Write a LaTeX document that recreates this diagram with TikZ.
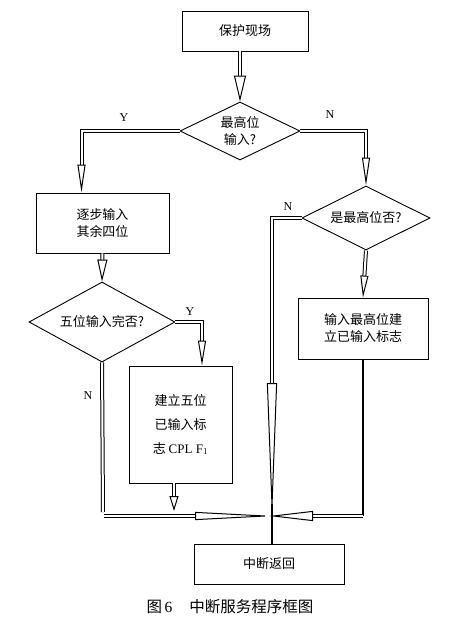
\documentclass[tikz,border=0pt]{standalone}
\usepackage{fontspec}
\setmainfont{Liberation Serif}
\newfontfamily\cjk{Noto Sans CJK SC}
\usetikzlibrary{shapes.geometric,arrows.meta}

\begin{document}
\begin{tikzpicture}[x=1pt, y=-1pt,
    block/.style={draw, line width=0.9pt, inner sep=0pt, align=center,
      font=\cjk\fontsize{13}{17}\selectfont},
    decision/.style={diamond, draw, aspect=2, line width=0.9pt, inner sep=0pt,
      align=center, font=\cjk\fontsize{13}{17}\selectfont},
    flow/.style={double, double distance=2pt, line width=1pt},
    yn/.style={font=\fontsize{12}{14}\selectfont}
  ]
    \useasboundingbox (0,0) rectangle (461,625);

    % Boxes
    \node[block, minimum width=126pt, minimum height=40pt] (save) at (245,31) {保护现场};
    \node[block, minimum width=133pt, minimum height=60pt] (rest) at (102.5,223) {逐步输入\\其余四位};
    \node[block, minimum width=103pt, minimum height=117pt, font=\cjk\fontsize{13}{24}\selectfont]
      (setf) at (180.5,424.5) {建立五位\\已输入标\\志 {\rmfamily CPL F}$_1$};
    \node[block, minimum width=130pt, minimum height=61pt] (flag) at (363,328.5) {输入最高位建\\立已输入标志};
    \node[block, minimum width=150pt, minimum height=40pt] (ret) at (269,564) {中断返回};

    % Decisions
    \node[decision, minimum width=120pt, minimum height=58pt] (hi1) at (240,131) {最高位\\输入?};
    \node[decision, minimum width=128pt, minimum height=64pt] (hi2) at (366,218) {是最高位否?};
    \node[decision, minimum width=146pt, minimum height=80pt] (five) at (102,322) {五位输入完否?};

    % Free ends
    \coordinate (join) at (272,516);
    \coordinate (setfend) at (174,511);
    \coordinate (fiveend) at (103,512);
    \coordinate (flagend) at (flag.south |- join);

    % Connections
    \draw[flow, -{Triangle[open, length=26pt, width=12pt]}] (save.south -| hi1.north) -- (hi1.north);
    \draw[flow, -{Triangle[open, length=28pt, width=8pt]}] (hi1.west) -| ([xshift=-21pt]rest.north);
    \draw[flow, -{Triangle[open, length=28pt, width=8pt]}] (hi1.east) -| (hi2.north);
    \draw[flow, -{Triangle[open, length=22pt, width=10pt]}] (rest.south) -- (five.north);
    \draw[flow, -{Triangle[open, length=25pt, width=8pt]}] (five.east) -| ([xshift=21.5pt]setf.north);
    \draw[flow, -{Triangle[open, length=22pt, width=8pt]}] (hi2.south) -- (flag.north);
    \draw[flow] (five.south) -- (fiveend);
    \draw[flow, shorten >=-3pt, -{Triangle[open, length=80pt, width=8pt]}] ([xshift=1pt]fiveend |- join) -- (join);
    \draw[flow, -{Triangle[open, length=15pt, width=9pt]}] ([xshift=-6.5pt]setf.south) -- (setfend);
    \draw[flow, shorten >=-3pt, -{Triangle[open, length=136pt, width=10pt]}] (hi2.west) -| (join);
    \draw[line width=1.6pt] (flag.south) -- (flagend);
    \draw[flow, shorten >=-3pt, -{Triangle[open, length=44pt, width=10pt]}] (flagend) -- (join);
    \draw[line width=1.2pt] ([yshift=12pt]join) -- (join |- ret.north);

    % Labels
    \node[yn] at (124,118) {Y};
    \node[yn] at (330,115) {N};
    \node[yn] at (288,207) {N};
    \node[yn] at (190,312) {Y};
    \node[yn] at (88,396) {N};

    \node[font=\fontsize{15.5}{18}\selectfont] (title) at (230,607) {{\cjk 图}\,6\hspace{1.1em}{\cjk 中断服务程序框图}};

  \end{tikzpicture}
\end{document}
